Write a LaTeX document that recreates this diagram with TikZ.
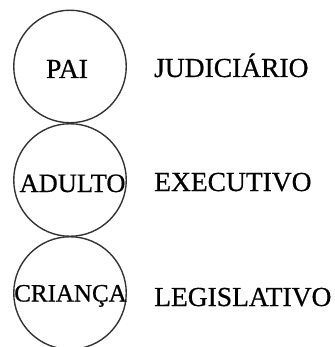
\documentclass[tikz,border=0pt]{standalone}
\usepackage{fontspec}
\setmainfont{Liberation Serif}[FakeBold=0.6]
\begin{document}
\begin{tikzpicture}[x=1pt,y=-1pt,
  ring/.style={draw=black!80,line width=1.4pt,circle,minimum size=112.5pt,inner sep=0pt},
  txt/.style={font=\fontsize{27.5}{32}\selectfont,inner sep=0pt,text=black}]
\useasboundingbox (0,0) rectangle (334,347);
\clip (0,0) rectangle (334,347);
\node[ring] (c1) at (70,66.5) {};
\node[ring] (c2) at (70,180) {};
\node[ring] (c3) at (70,293) {};
\node[txt,anchor=base] (pai) at (67,78) {PAI};
\node[txt,anchor=base,font=\fontsize{26.5}{30}\selectfont] (adulto) at (72.5,192) {ADULTO};
\node[txt,anchor=base,font=\fontsize{25}{30}\selectfont] (crianca) at (70.5,301.5) {CRIANÇA};
\node[txt,anchor=base west] (jud) at (154,77) {JUDICIÁRIO};
\node[txt,anchor=base west] (exe) at (154,191) {EXECUTIVO};
\node[txt,anchor=base west] (leg) at (154,306) {LEGISLATIVO};
\end{tikzpicture}
\end{document}
